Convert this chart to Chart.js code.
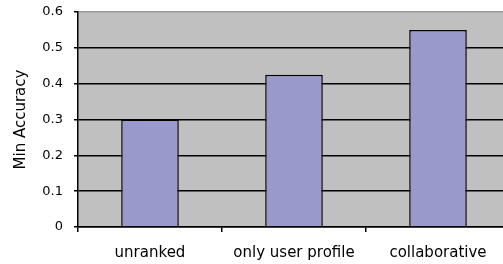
<!DOCTYPE html>
<html>
<head>
<meta charset="utf-8">
<script src="https://cdn.jsdelivr.net/npm/chart.js@4/dist/chart.umd.min.js"></script>
<style>
html,body{margin:0;padding:0;background:#fff;overflow:hidden;width:503px;height:264px;}
#wrap{position:absolute;left:0;top:0;width:510px;height:264px;}
</style>
</head>
<body>
<div id="wrap"><canvas id="c" width="510" height="264"></canvas></div>
<script>
const categories = ['unranked', 'only user profile', 'collaborative'];
const minAccuracy = [0.30, 0.425, 0.55];
const yTickLabels = ['0', '0.1', '0.2', '0.3', '0.4', '0.5', '0.6'];
const yTitle = 'Min Accuracy';

const plotBg = {
  id: 'plotBg',
  beforeDraw(chart) {
    const a = chart.chartArea, ctx = chart.ctx;
    ctx.save();
    ctx.fillStyle = '#c0c0c0';
    ctx.fillRect(a.left, a.top, a.right - a.left, a.bottom - a.top);
    ctx.restore();
  }
};

new Chart(document.getElementById('c'), {
  type: 'bar',
  data: {
    labels: categories,
    datasets: [{
      data: minAccuracy,
      backgroundColor: '#9999cc',
      borderColor: '#000',
      borderWidth: 1.5,
      barPercentage: 0.4,
      categoryPercentage: 1.0
    }]
  },
  options: {
    responsive: false,
    animation: false,
    layout: { padding: { top: 12, left: 0, right: 0, bottom: 0 } },
    plugins: { legend: { display: false }, tooltip: { enabled: false } },
    scales: {
      x: {
        afterFit(s) { s.height = 37; s.paddingLeft = 0; s.paddingRight = 0; },
        offset: true,
        grid: { display: true, drawOnChartArea: false, offset: true, tickLength: 5, color: '#000', lineWidth: 1.5 },
        border: { display: true, color: '#000', width: 1.5 },
        ticks: { color: '#000', padding: 12, font: { family: 'DejaVu Sans', size: 15 }, maxRotation: 0 }
      },
      y: {
        afterFit(s) { s.width = 78; s.paddingTop = 0; s.paddingBottom = 0; },
        min: 0, max: 0.6,
        grid: {
          color: (c) => (c.tick && c.tick.value > 0.55) ? '#9a9a9a' : '#000',
          tickColor: '#000',
          lineWidth: 1.5,
          tickLength: 4
        },
        border: { display: true, color: '#000', width: 1.5 },
        ticks: {
          stepSize: 0.1,
          padding: 11,
          color: '#000',
          font: { family: 'DejaVu Sans', size: 13 },
          callback: (v, i) => yTickLabels[i]
        },
        title: {
          display: true,
          text: yTitle,
          color: '#000',
          font: { family: 'DejaVu Sans', size: 15 },
          padding: { top: 12, bottom: 0 }
        }
      }
    }
  },
  plugins: [plotBg]
});
</script>
</body>
</html>
